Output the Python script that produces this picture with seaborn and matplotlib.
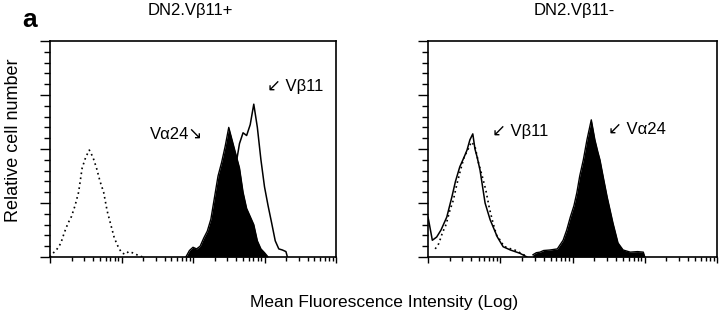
import matplotlib
matplotlib.use("Agg")
import matplotlib.pyplot as plt
import numpy as np
import seaborn as sns
from matplotlib.ticker import MultipleLocator, LogLocator, NullFormatter

sns.set_theme(style="ticks")
plt.rcParams['font.family'] = ['Liberation Sans', 'DejaVu Sans']
plt.rcParams['text.color'] = 'black'

# ---- data (log10 intensity, relative cell number) ----
# left panel: DN2.Vb11+
l_ctrl_log = [0.00, 0.05, 0.10, 0.15, 0.20, 0.25, 0.30, 0.35, 0.40, 0.45, 0.50, 0.55, 0.60,
              0.65, 0.70, 0.75, 0.80, 0.85, 0.90, 0.95, 1.00, 1.05, 1.10, 1.15, 1.20, 1.25, 1.30]
l_ctrl_cnt = [0, 8, 15, 25, 45, 62, 75, 95, 120, 165, 185, 198, 185,
              165, 140, 120, 85, 60, 35, 20, 8, 5, 10, 8, 5, 2, 0]

l_va24_log = [1.90, 1.95, 2.00, 2.05, 2.10, 2.15, 2.20, 2.25, 2.30, 2.35, 2.40, 2.45,
              2.50, 2.55, 2.60, 2.65, 2.70, 2.75, 2.80, 2.85, 2.90, 2.95, 3.00, 3.05]
l_va24_cnt = [0, 12, 18, 15, 20, 35, 48, 70, 110, 150, 175, 205,
              240, 215, 190, 165, 120, 90, 75, 60, 30, 15, 8, 0]

l_vb11_log = [2.20, 2.30, 2.40, 2.50, 2.60, 2.65, 2.70, 2.75, 2.80, 2.85, 2.90, 2.95,
              3.00, 3.05, 3.10, 3.15, 3.20, 3.25, 3.30, 3.32]
l_vb11_cnt = [5, 15, 40, 100, 170, 210, 230, 225, 245, 283, 240, 180,
              130, 95, 63, 30, 15, 13, 10, 0]

# right panel: DN2.Vb11-
r_ctrl_log = [0.10, 0.15, 0.20, 0.25, 0.30, 0.35, 0.40, 0.45, 0.50, 0.55, 0.60, 0.65,
              0.70, 0.75, 0.80, 0.85, 0.90, 0.95, 1.00, 1.05, 1.10, 1.20, 1.30, 1.38]
r_ctrl_cnt = [15, 25, 45, 60, 85, 105, 135, 161, 185, 198, 213, 205,
              174, 150, 124, 90, 63, 40, 31, 20, 17, 13, 6, 0]

r_vb11_log = [0.00, 0.02, 0.06, 0.12, 0.18, 0.26, 0.33, 0.38, 0.44, 0.50, 0.54, 0.58, 0.62,
              0.65, 0.68, 0.72, 0.79, 0.86, 0.96, 1.04, 1.14, 1.27, 1.37]
r_vb11_cnt = [74, 60, 31, 37, 50, 74, 111, 140, 167, 185, 198, 217, 228,
              200, 185, 161, 100, 69, 37, 19, 13, 7, 0]

r_va24_log = [1.45, 1.50, 1.55, 1.60, 1.69, 1.79, 1.87, 1.92, 1.97, 2.02, 2.06, 2.10, 2.15,
              2.20, 2.26, 2.31, 2.35, 2.38, 2.43, 2.48, 2.56, 2.63, 2.70, 2.80, 2.90, 2.98, 3.00]
r_va24_cnt = [4, 8, 9, 12, 13, 15, 31, 50, 74, 95, 119, 150, 180,
              217, 254, 217, 195, 180, 145, 111, 63, 26, 13, 9, 10, 9, 0]

titles = ["DN2.V\u03b211+", "DN2.V\u03b211-"]

fig = plt.figure(figsize=(7.2, 3.17), dpi=100)
ax1 = fig.add_axes([50 / 720, 1 - 257 / 317, 286 / 720, 216 / 317])
ax2 = fig.add_axes([428 / 720, 1 - 257 / 317, 289 / 720, 216 / 317])


def draw(ax, ctrl_log, ctrl_cnt, va_log, va_cnt, vb_log, vb_cnt):
    ctrl_x = 10 ** np.array(ctrl_log)
    va_x = 10 ** np.array(va_log)
    vb_x = 10 ** np.array(vb_log)
    ax.fill_between(va_x, va_cnt, color='black', lw=0, zorder=2)
    sns.lineplot(x=va_x, y=va_cnt, ax=ax, color='black', lw=1, estimator=None, zorder=2)
    sns.lineplot(x=vb_x, y=vb_cnt, ax=ax, color='black', lw=1.1, estimator=None, zorder=3)
    sns.lineplot(x=ctrl_x, y=ctrl_cnt, ax=ax, color='black', lw=1.2,
                 linestyle=(0, (1, 2)), estimator=None, zorder=4)


draw(ax1, l_ctrl_log, l_ctrl_cnt, l_va24_log, l_va24_cnt, l_vb11_log, l_vb11_cnt)
draw(ax2, r_ctrl_log, r_ctrl_cnt, r_va24_log, r_va24_cnt, r_vb11_log, r_vb11_cnt)

for ax in (ax1, ax2):
    ax.set_xscale('log')
    ax.set_xlim(1, 1e4)
    ax.set_ylim(0, 400)
    ax.yaxis.set_major_locator(MultipleLocator(100))
    ax.yaxis.set_minor_locator(MultipleLocator(20))
    ax.xaxis.set_major_locator(LogLocator(base=10))
    ax.xaxis.set_minor_locator(LogLocator(base=10, subs=np.arange(2, 10)))
    ax.xaxis.set_major_formatter(NullFormatter())
    ax.xaxis.set_minor_formatter(NullFormatter())
    ax.yaxis.set_major_formatter(NullFormatter())
    ax.tick_params(axis='y', which='major', direction='out', length=7, width=1, color='black')
    ax.tick_params(axis='y', which='minor', direction='out', length=4, width=1, color='black')
    ax.tick_params(axis='x', which='major', direction='out', length=4, width=1, color='black')
    ax.tick_params(axis='x', which='minor', direction='out', length=3, width=1, color='black')
    for s in ax.spines.values():
        s.set_visible(True)
        s.set_linewidth(1.2)
        s.set_color('black')
    ax.set_xlabel('')
    ax.set_ylabel('')

arrow_font = ['Liberation Sans', 'DejaVu Sans']
ax1.text(10 ** 1.40, 226, "V\u03b124\u2198", fontsize=12, va='center', ha='left', family=arrow_font)
ax1.text(10 ** 3.03, 315, "\u2199 V\u03b211", fontsize=12, va='center', ha='left', family=arrow_font)
ax2.text(10 ** 0.89, 233, "\u2199 V\u03b211", fontsize=12, va='center', ha='left', family=arrow_font)
ax2.text(10 ** 2.49, 237, "\u2199 V\u03b124", fontsize=12, va='center', ha='left', family=arrow_font)

fig.text(190 / 720, 1 - 11 / 317, titles[0], fontsize=12, ha='center', va='center')
fig.text(574 / 720, 1 - 11 / 317, titles[1], fontsize=12, ha='center', va='center')
fig.text(22 / 720, 1 - 20 / 317, "a", fontsize=19, fontweight='bold', ha='left', va='center')
fig.text(14 / 720, 1 - 140 / 317, "Relative cell number", fontsize=13, rotation=90,
         ha='center', va='center')
fig.text(384 / 720, 1 - 303 / 317, "Mean Fluorescence Intensity (Log)", fontsize=12.5,
         ha='center', va='center')

fig.savefig("out.png", dpi=100)
